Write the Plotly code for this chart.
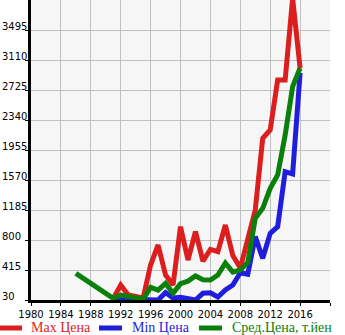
import plotly.graph_objects as go

# Price history by model year (thousand yen)
years_max = list(range(1991, 2017))
price_max = [51, 222, 94, 72, 56, 479, 736, 351, 222, 971, 543, 907, 530, 680, 650,
             992, 600, 440, 800, 1185, 2105, 2212, 2853, 2853, 3900, 3007]

years_min = list(range(1991, 2017))
price_min = [30, 40, 35, 35, 30, 30, 30, 125, 55, 65, 50, 30, 116, 122, 68,
             158, 222, 380, 360, 843, 565, 886, 971, 1677, 1647, 2945]

years_avg = [1986] + list(range(1991, 2017))
price_avg = [372, 51, 94, 73, 64, 39, 192, 158, 244, 116, 240, 272, 338, 290, 287,
             351, 505, 388, 415, 510, 1078, 1207, 1463, 1634, 2147, 2768, 3007]

x_ticks = [1980, 1984, 1988, 1992, 1996, 2000, 2004, 2008, 2012, 2016, 2020]
x_labels = ["1980", "1984", "1988", "1992", "1996", "2000", "2004", "2008", "2012", "2016", ""]
y_ticks = [30, 415, 800, 1185, 1570, 1955, 2340, 2725, 3110, 3495]
y_labels = ["30", "415", "800", "1185", "1570", "1955", "2340", "2725", "3110", "3495"]

series_names = ["Max Цена", "Min Цена", "Сред.Цена, т.йен"]
series_colors = ["#dc1e1e", "#1e1edc", "#0a800a"]

W, H = 345, 335
L, R, T, B = 31, 15, 0, 35
PW = W - L - R


def px_to_paper_x(px):
    return (px - L) / PW


def px_to_paper_y(py):
    return (H - B - py) / (H - T - B)


fig = go.Figure()
for xs, ys, name, color in zip([years_max, years_min, years_avg],
                               [price_max, price_min, price_avg],
                               series_names, series_colors):
    fig.add_trace(go.Scatter(x=xs, y=ys, mode="lines", name=name,
                             line=dict(color=color, width=5),
                             hoverinfo="skip"))

# y tick labels, left aligned at the page edge and sitting on the gridline
for val, txt in zip(y_ticks, y_labels):
    fig.add_annotation(x=px_to_paper_x(0), xref="paper", y=val, yref="y",
                       text=txt, showarrow=False, xanchor="left", yanchor="middle",
                       yshift=4, font=dict(family="DejaVu Sans", size=10, color="#000"))

# legend row drawn below the plot
legend_items = [(0, 22, 29), (99, 122, 130), (199, 222, 230)]
ly = 327
for (x0, x1, tx), name, color in zip(legend_items, series_names, series_colors):
    fig.add_shape(type="line", xref="paper", yref="paper",
                  x0=px_to_paper_x(x0), x1=px_to_paper_x(x1),
                  y0=px_to_paper_y(ly + 1), y1=px_to_paper_y(ly + 1),
                  line=dict(color=color, width=5))
    fig.add_annotation(x=px_to_paper_x(tx), xref="paper", y=px_to_paper_y(ly), yref="paper",
                       text=name, showarrow=False, xanchor="left", yanchor="middle",
                       font=dict(family="Liberation Serif", size=14, color=color))

fig.update_layout(
    width=W, height=H,
    margin=dict(l=L, r=R, t=T, b=B, pad=0),
    paper_bgcolor="white", plot_bgcolor="#f6f6f6",
    showlegend=False,
    xaxis=dict(range=[1980, 2020], tickvals=x_ticks, ticktext=x_labels,
               showgrid=True, gridcolor="#c0c0c0", gridwidth=1,
               showline=True, linecolor="black", linewidth=3,
               ticks="outside", ticklen=3, tickcolor="black",
               tickfont=dict(family="DejaVu Sans", size=10, color="#000"),
               zeroline=False, fixedrange=True),
    yaxis=dict(range=[30, 3880], tickvals=y_ticks, showticklabels=False,
               showgrid=True, gridcolor="#c0c0c0", gridwidth=1,
               showline=True, linecolor="black", linewidth=3,
               ticks="outside", ticklen=3, tickcolor="black",
               zeroline=False, fixedrange=True),
)

fig.write_html("out.html", config={"displayModeBar": False})
